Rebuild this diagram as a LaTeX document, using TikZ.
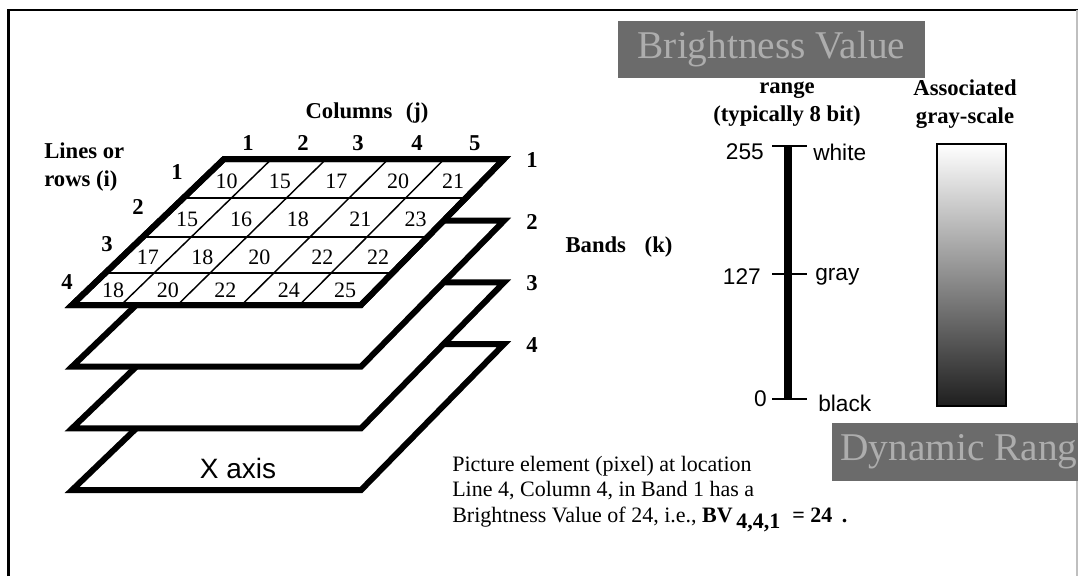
\documentclass[tikz,border=0pt]{standalone}
\usepackage{fontspec}
\setmainfont{Liberation Serif}
\newfontfamily\arialfont{Liberation Sans}
\usetikzlibrary{positioning,calc}

\begin{document}
\begin{tikzpicture}[x=0.75pt,y=-0.75pt,
  lab/.style={font=\fontsize{17}{21}\selectfont\bfseries,inner sep=0pt},
  num/.style={font=\fontsize{16.5}{18}\selectfont,inner sep=0pt},
  sans/.style={font=\fontsize{17}{19}\selectfont\arialfont,inner sep=0pt},
  banner/.style={fill=black!58,text=black!32,font=\fontsize{29.5}{32}\selectfont,inner sep=0pt},
  plane/.style={draw,line width=4.5pt,fill=white,line join=miter},
  cell/.style={line width=1.1pt},
  bar/.style={line width=5.5pt},
  tick/.style={line width=2.2pt}]
\useasboundingbox (0,0) rectangle (1078,576);
\clip (0,0) rectangle (1078,576);
% frame
\draw[line width=2.2pt,line join=miter] (8.5,576) -- (8.5,10) -- (1078,10);
\draw[black!25,line width=0.8pt] (1077,10) -- (1077,576);
% bands, bottom one first
\foreach \k in {4,3,2,1}{
  \pgfmathsetmacro\yb{305+(\k-1)*61.7}
  \coordinate (BL\k) at (72,\yb); \coordinate (BR\k) at (361,\yb);
  \coordinate (TR\k) at (504,\yb-146); \coordinate (TL\k) at (224,\yb-146);
  \filldraw[plane] (BL\k) -- (BR\k) -- (TR\k) -- (TL\k) -- cycle;
  \node[lab] (band\k) at ($(TR\k)+(28,1)$) {\k};
}
% pixel grid of band 1
\foreach \cu in {0.17,0.365,0.587,0.787}
  \draw[cell] ($(TL1)!\cu!(TR1)$) -- ($(BL1)!\cu!(BR1)$);
\foreach \rt in {0.267,0.534,0.781}
  \draw[cell] ($(TL1)!\rt!(BL1)$) -- ($(TR1)!\rt!(BR1)$);
\draw[plane,fill=none] (BL1) -- (BR1) -- (TR1) -- (TL1) -- cycle;
\foreach \row/\rt/\vals in {1/0.15/{10,15,17,20,21},2/0.41/{15,16,18,21,23},
    3/0.67/{17,18,20,22,22},4/0.90/{18,20,22,24,25}}{
  \foreach \val [count=\col] in \vals {
    \pgfmathsetmacro\cu{{0.09,0.28,0.48,0.70,0.895}[\col-1]}
    \node[num] (bv\row\col) at ($($(TL1)!\cu!(TR1)$)!\rt!($(BL1)!\cu!(BR1)$)$) {\val};
  }
}
% line and column numbers
\foreach \cu [count=\col] in {0.086,0.282,0.479,0.689,0.896}
  \node[lab] (cj\col) at ($(TL1)!\cu!(TR1)+(0,-16)$) {\col};
\foreach \row/\px/\py in {1/177/172,2/138/207,3/107/244,4/67/282}
  \node[lab] (ri\row) at (\px,\py) {\row};
\node[lab] (cols) at (367,113) {Columns\hspace{10pt}(j)};
\node[lab,align=left,anchor=west] (rows) at (44,167) {Lines or\\rows (i)};
\node[lab] (bands) at (619,247) {Bands\hspace{14pt}(k)};
\node[font=\fontsize{21}{24}\selectfont\arialfont,inner sep=0pt] (xax) at (238,468) {X axis};
% brightness value range
\node[banner,minimum width=230.25pt,minimum height=42.75pt] (bvt) at (771.5,49.5) {Brightness Value};
\node[lab,align=center] (rng) at (787,104) {range\\(typically 8 bit)};
\node[lab,align=center] (assoc) at (965,104) {Associated\\gray-scale};
\coordinate (s255) at (788,146); \coordinate (s127) at (788,274); \coordinate (s0) at (788,399);
\draw[bar] (s255) -- (s0);
\foreach \p in {255,127,0}
  \draw[tick] ($(s\p)+(-16,0)$) -- ($(s\p)+(19,0)$);
\node[sans,anchor=east] (v255) at ($(s255)+(-24,6)$) {255};
\node[sans,anchor=east] (v127) at ($(s127)+(-27,3)$) {127};
\node[sans,anchor=east] (v0) at ($(s0)+(-21,0)$) {0};
\node[sans,anchor=west] (white) at ($(s255)+(25,6)$) {white};
\node[sans,anchor=west] (gray) at ($(s127)+(27,3)$) {gray};
\node[sans,anchor=west] (black) at ($(s0)+(30,4)$) {black};
\draw[line width=1.6pt,top color=white,bottom color=black!88] (937,144) rectangle (1006,406);
\fill[black!58] (832,423) rectangle (1078,481);
\node[banner,fill=none,anchor=west] (dyn) at (840,452) {Dynamic Rang};
% caption
\node[font=\fontsize{16.5}{19}\selectfont,align=left,anchor=west,inner sep=0pt] (cap) at (452,494)
  {Picture element (pixel) at location\\
   Line 4, Column 4, in Band 1 has a\\
   Brightness Value of 24, i.e., \textbf{BV}\,\raisebox{-4.5pt}{\textbf{4,4,1}}\hspace{9pt}\textbf{= 24}\hspace{7pt}\textbf{.}};
\end{tikzpicture}
\end{document}
